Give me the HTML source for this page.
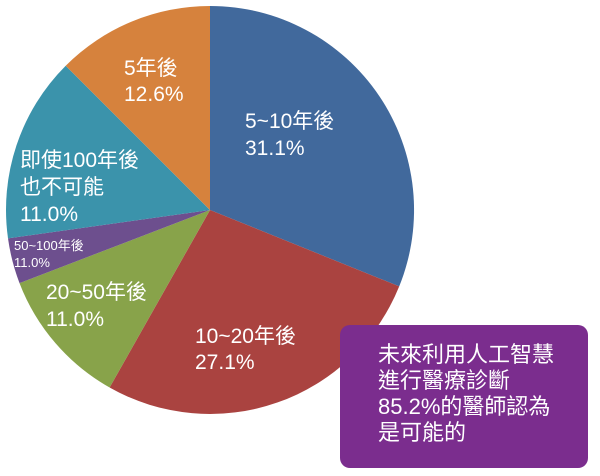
<!DOCTYPE html>
<html><head><meta charset="utf-8"><style>
html,body{margin:0;padding:0;background:#fff;width:600px;height:476px;overflow:hidden}
text{font-family:"Liberation Sans","Noto Sans CJK TC",sans-serif;fill:#fff}
</style></head><body>
<svg width="600" height="476" viewBox="0 0 600 476" xmlns="http://www.w3.org/2000/svg">
<g stroke="none">
<path d="M210,210 L210,6 A204,204 0 0,1 399.2,286.4 Z" fill="#41699c"/>
<path d="M210,210 L399.2,286.4 A204,204 0 0,1 109.6,387.5 Z" fill="#aa4340"/>
<path d="M210,210 L109.6,387.5 A204,204 0 0,1 19.5,283.1 Z" fill="#88a34a"/>
<path d="M210,210 L19.5,283.1 A204,204 0 0,1 8,238.4 Z" fill="#6d4f8e"/>
<path d="M210,210 L8,238.4 A204,204 0 0,1 65.7,65.7 Z" fill="#3b93ab"/>
<path d="M210,210 L65.7,65.7 A204,204 0 0,1 210,6 Z" fill="#d6823d"/>
</g>
<g font-size="21">
<text x="245" y="128">5~10年後</text><text x="245" y="155">31.1%</text>
<text x="124" y="75">5年後</text><text x="124" y="101">12.6%</text>
<text x="20" y="167">即使100年後</text><text x="20" y="194">也不可能</text><text x="20" y="221">11.0%</text>
<text x="46" y="299">20~50年後</text><text x="46" y="326">11.0%</text>
<text x="195" y="343">10~20年後</text><text x="195" y="369">27.1%</text>
</g>
<g font-size="13"><text x="14" y="250">50~100年後</text><text x="14" y="267">11.0%</text></g>
<rect x="340" y="325" width="248" height="143" rx="10" fill="#7b2d8e"/>
<g font-size="22">
<text x="378" y="362">未來利用人工智慧</text>
<text x="378" y="388">進行醫療診斷</text>
<text x="378" y="414">85.2%的醫師認為</text>
<text x="378" y="440">是可能的</text>
</g>
</svg>
</body></html>
